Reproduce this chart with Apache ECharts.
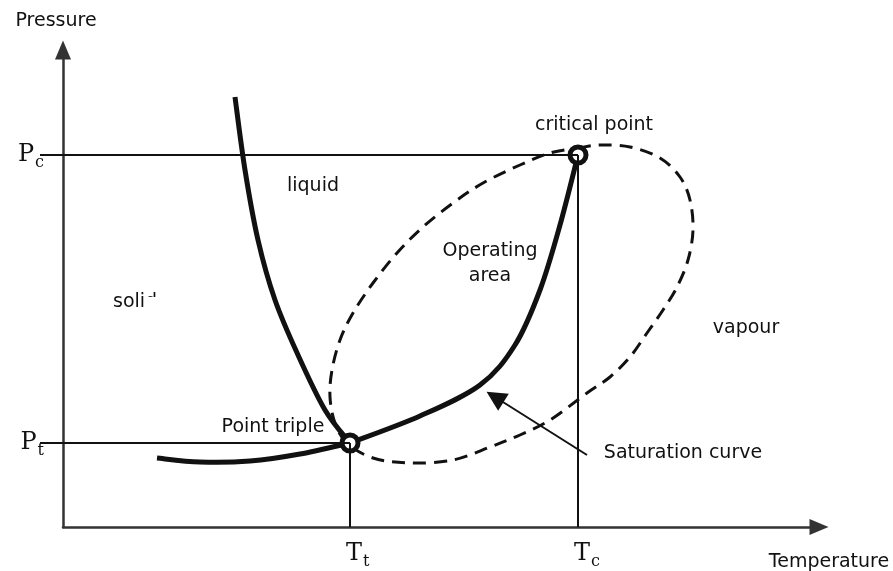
<!DOCTYPE html>
<html>
<head>
<meta charset="utf-8">
<script src="https://cdn.jsdelivr.net/npm/echarts@6/dist/echarts.min.js"></script>
<style>
  html, body { margin: 0; padding: 0; background: #fff; }
  #chart { width: 893px; height: 571px; }
</style>
</head>
<body>
<div id="chart"></div>
<script>
// key states (temperature, pressure) in plot units
var tTriple = 287, pTriple = 84;
var tCrit = 515, pCrit = 372;

// solid / liquid boundary (melting curve)
var meltingCurve = [[172, 430], [182, 357], [195, 287], [212, 227], [235, 172], [262, 117], [287, 84]];
// solid / vapour boundary (sublimation curve)
var sublimationCurve = [[94, 69], [137, 65], [187, 66], [237, 73], [287, 84]];
// liquid / vapour boundary (saturation curve)
var saturationCurve = [[287, 84], [357, 111], [417, 142], [452, 182], [477, 237], [497, 302], [515, 372]];
// operating area outline (closed loop)
var operatingArea = [[515, 379], [537, 382], [567, 380], [597, 369], [617, 350], [627, 327],
    [630, 297], [625, 267], [614, 240], [600, 217], [584, 194], [567, 170], [547, 150],
    [524, 134], [487, 107], [457, 92], [427, 80], [390, 67], [347, 64], [310, 69], [284, 84],
    [272, 104], [267, 130], [269, 157], [277, 187], [290, 214], [310, 244], [334, 274],
    [360, 300], [390, 324], [420, 344], [457, 362], [487, 374], [515, 379]];
// pointer to the saturation curve
var saturationPointer = [[524, 72], [432, 130]];

var tLabels = {};
tLabels[tTriple] = '{m|T}{s|t}';
tLabels[tCrit] = '{m|T}{s|c}';
var pLabels = {};
pLabels[pTriple] = '{m|P}{s|t}';
pLabels[pCrit] = '{m|P}{s|c}';

var serifRich = {
    m: { fontFamily: 'DejaVu Serif', fontSize: 24, color: '#111', verticalAlign: 'top', lineHeight: 24 },
    s: { fontFamily: 'DejaVu Serif', fontSize: 16, color: '#111', verticalAlign: 'top', lineHeight: 17, padding: [12, 0, 0, 1] }
};

var sans = 'DejaVu Sans';
var black = '#111';
var textFont = '19px "DejaVu Sans"';

// catmull-rom path through the pixel points (closed when first == last)
function smoothPath(pts, closed) {
    var n = pts.length;
    var d = 'M' + pts[0][0] + ' ' + pts[0][1];
    for (var i = 0; i < n - 1; i++) {
        var p0 = i > 0 ? pts[i - 1] : (closed ? pts[n - 2] : pts[0]);
        var p1 = pts[i];
        var p2 = pts[i + 1];
        var p3 = i + 2 < n ? pts[i + 2] : (closed ? pts[1] : pts[n - 1]);
        d += ' C' + (p1[0] + (p2[0] - p0[0]) / 6) + ' ' + (p1[1] + (p2[1] - p0[1]) / 6) +
            ' ' + (p2[0] - (p3[0] - p1[0]) / 6) + ' ' + (p2[1] - (p3[1] - p1[1]) / 6) +
            ' ' + p2[0] + ' ' + p2[1];
    }
    return d;
}

function curveSeries(name, points, closed, lineStyle, z) {
    return {
        name: name,
        type: 'custom',
        coordinateSystem: 'cartesian2d',
        data: points,
        z: z,
        silent: true,
        renderItem: function (params, api) {
            if (params.dataIndex !== 0) return null;
            var px = points.map(function (p) { return api.coord(p); });
            return {
                type: 'path',
                shape: { pathData: smoothPath(px, closed) },
                style: echarts.util.extend({ fill: 'none', stroke: black }, lineStyle)
            };
        }
    };
}

var myChart = echarts.init(document.getElementById('chart'));
var option = {
    animation: false,
    backgroundColor: '#fff',
    grid: { left: 63, top: 50, width: 756, height: 477, containLabel: false, outerBoundsMode: 'none' },
    xAxis: {
        type: 'value',
        min: 0,
        max: 756,
        name: 'Temperature',
        nameLocation: 'end',
        nameGap: 10,
        nameTextStyle: { fontFamily: sans, fontSize: 19, color: black, align: 'center', verticalAlign: 'top', lineHeight: 70 },
        axisLine: { lineStyle: { color: '#333', width: 2.5 }, symbol: ['none', 'triangle'], symbolSize: [16, 19] },
        axisTick: { show: false },
        splitLine: { show: false },
        axisLabel: {
            customValues: [tTriple, tCrit],
            margin: 15,
            align: 'left',
            padding: [0, 0, 0, -4],
            formatter: function (v) { return tLabels[v] || ''; },
            rich: serifRich
        }
    },
    yAxis: {
        type: 'value',
        min: 0,
        max: 477,
        name: 'Pressure',
        nameLocation: 'end',
        nameGap: 29,
        nameTextStyle: { fontFamily: sans, fontSize: 19, color: black, align: 'center', verticalAlign: 'middle', padding: [0, 14, 0, 0] },
        axisLine: { lineStyle: { color: '#333', width: 2.5 }, symbol: ['none', 'triangle'], symbolSize: [16, 19] },
        axisTick: { show: true, customValues: [pTriple, pCrit], length: 23, lineStyle: { color: black, width: 2 } },
        splitLine: { show: false },
        axisLabel: {
            customValues: [pTriple, pCrit],
            margin: 19,
            formatter: function (v) { return pLabels[v] || ''; },
            rich: serifRich
        }
    },
    series: [
        {
            // guide lines to the triple and critical points
            type: 'line',
            data: [],
            z: 1,
            markLine: {
                silent: true,
                symbol: 'none',
                label: { show: false },
                lineStyle: { color: black, width: 2, type: 'solid' },
                data: [
                    [{ coord: [0, pCrit] }, { coord: [tCrit, pCrit] }],
                    [{ coord: [0, pTriple] }, { coord: [tTriple, pTriple] }],
                    [{ coord: [tTriple, 0] }, { coord: [tTriple, pTriple] }],
                    [{ coord: [tCrit, 0] }, { coord: [tCrit, pCrit] }]
                ]
            }
        },
        curveSeries('operating area', operatingArea, true, { lineWidth: 3, lineDash: [13, 8] }, 2),
        curveSeries('melting', meltingCurve, false, { lineWidth: 5 }, 3),
        curveSeries('sublimation', sublimationCurve, false, { lineWidth: 5 }, 3),
        curveSeries('saturation', saturationCurve, false, { lineWidth: 5 }, 3),
        {
            type: 'lines',
            coordinateSystem: 'cartesian2d',
            symbol: ['none', 'triangle'],
            symbolSize: [15, 20],
            z: 3,
            lineStyle: { color: black, width: 2, opacity: 1 },
            data: [{ coords: saturationPointer }]
        },
        {
            type: 'scatter',
            data: [[tTriple, pTriple], [tCrit, pCrit]],
            symbol: 'circle',
            symbolSize: 16,
            z: 4,
            itemStyle: { color: '#fff', borderColor: black, borderWidth: 5, opacity: 1 }
        }
    ],
    graphic: [
        { type: 'text', x: 594, y: 125, style: { text: 'critical point', font: textFont, fill: black, align: 'center', verticalAlign: 'middle' } },
        { type: 'text', x: 313, y: 186, style: { text: 'liquid', font: textFont, fill: black, align: 'center', verticalAlign: 'middle' } },
        { type: 'text', x: 490, y: 264, style: { text: 'Operating\narea', font: textFont, lineHeight: 25, fill: black, align: 'center', verticalAlign: 'middle' } },
        { type: 'text', x: 746, y: 328, style: { text: 'vapour', font: textFont, fill: black, align: 'center', verticalAlign: 'middle' } },
        { type: 'text', x: 273, y: 427, style: { text: 'Point triple', font: textFont, fill: black, align: 'center', verticalAlign: 'middle' } },
        { type: 'text', x: 683, y: 453, style: { text: 'Saturation curve', font: textFont, fill: black, align: 'center', verticalAlign: 'middle' } },
        { type: 'text', x: 113, y: 302, style: { text: 'solid', font: textFont, fill: black, align: 'left', verticalAlign: 'middle' } },
        // the end of "solid" is worn away in the original drawing
        { type: 'rect', shape: { x: 144, y: 297, width: 36, height: 16 }, style: { fill: '#fff' }, z: 10 }
    ]
};
myChart.setOption(option);
</script>
</body>
</html>
